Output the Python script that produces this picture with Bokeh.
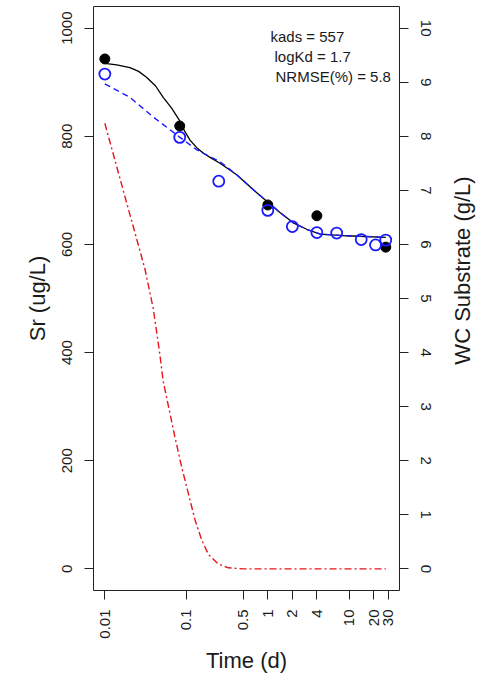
import math
from bokeh.plotting import figure
from bokeh.layouts import row
from bokeh.models import Range1d, LinearAxis, FixedTicker, Label
from bokeh.embed import file_html
from bokeh.resources import INLINE

# ---------------- data ----------------
x_ticks = [0.01, 0.1, 0.5, 1, 2, 4, 10, 20, 30]
x_tick_labels = ["0.01", "0.1", "0.5", "1", "2", "4", "10", "20", "30"]
sr_ticks = [0, 200, 400, 600, 800, 1000]
wc_ticks = [0, 1, 2, 3, 4, 5, 6, 7, 8, 9, 10]

# observed Sr (filled black points)
obs_black_t = [0.01, 0.083, 1, 4, 28]
obs_black_sr = [943, 819, 673, 653, 595]

# observed Sr (open blue circles)
obs_blue_t = [0.01, 0.083, 0.25, 1, 2, 4, 7, 14, 21, 28]
obs_blue_sr = [915, 798, 717, 663, 633, 622, 621, 609, 599, 608]

# model curve (black solid)
model_black_t = [0.01, 0.014, 0.0203, 0.026, 0.0325, 0.042, 0.052, 0.066, 0.082,
                 0.095, 0.111, 0.134, 0.161, 0.2, 0.259, 0.415,
                 0.665, 0.97, 1.41, 2.05, 3.0, 4.4, 9.3, 28]
model_black_sr = [935, 932, 927, 920, 909, 893, 872, 852, 830,
                  810, 793, 779, 769, 760, 750, 729,
                  701, 680, 659, 640, 628, 619, 616, 613]

# model curve (blue dashed)
model_blue_t = [0.01, 0.0203, 0.039, 0.082, 0.134, 0.259, 0.415,
                0.665, 0.97, 1.41, 2.05, 3.0, 4.4, 9.3, 28]
model_blue_sr = [897, 872, 836, 799, 775, 753, 729,
                 701, 680, 659, 640, 628, 619, 616, 613]

# WC substrate (red dash-dot, right axis)
wc_t = [0.01, 0.0133, 0.0176, 0.0234, 0.031, 0.0392, 0.0474, 0.052, 0.0724, 0.0875,
        0.1056, 0.1276, 0.154, 0.186, 0.247, 0.327, 0.5, 1, 28]
wc_g = [8.24, 7.56, 6.89, 6.22, 5.55, 4.82, 3.96, 3.47, 2.44, 1.89,
        1.40, 0.91, 0.54, 0.27, 0.09, 0.02, 0.0, 0.0, 0.0]

stats_lines = ["kads = 557", "logKd = 1.7", "NRMSE(%) = 5.8"]
right_title = "WC Substrate (g/L)"

FONT = "Liberation Sans"
TXT = "#1a1a1a"

p = figure(width=447, height=675, x_axis_type="log",
           x_range=Range1d(0.00726, 41.3), y_range=Range1d(-40, 1040),
           output_backend="svg", toolbar_location=None,
           min_border_left=93, min_border_right=48,
           min_border_top=6, min_border_bottom=82)
p.extra_y_ranges = {"wc": Range1d(-0.4, 10.4)}

p.background_fill_color = "white"
p.border_fill_color = "white"
p.outline_line_color = "#222222"
p.outline_line_width = 1
p.xgrid.visible = False
p.ygrid.visible = False

# x axis
xa = p.xaxis[0]
xa.ticker = FixedTicker(ticks=x_ticks)
xa.major_label_overrides = {t: l for t, l in zip(x_ticks, x_tick_labels)}
xa.axis_label = "Time (d)"

# left axis
ya = p.yaxis[0]
ya.ticker = FixedTicker(ticks=sr_ticks)
ya.axis_label = "Sr (ug/L)"

# right axis
ra = LinearAxis(y_range_name="wc", ticker=FixedTicker(ticks=wc_ticks))
p.add_layout(ra, "right")

for ax in (xa, ya, ra):
    ax.axis_line_color = None
    ax.major_tick_in = 0
    ax.major_tick_out = 9
    ax.major_tick_line_color = "#222222"
    ax.minor_tick_line_color = None
    ax.major_label_text_font = FONT
    ax.major_label_text_font_size = "15px"
    ax.major_label_text_color = TXT
    ax.axis_label_text_font = FONT
    ax.axis_label_text_font_size = "22px"
    ax.axis_label_text_font_style = "normal"
    ax.axis_label_text_color = TXT

xa.major_label_orientation = math.pi / 2
ya.major_label_orientation = "vertical"
ra.major_label_orientation = "vertical"

xa.major_label_standoff = 10
xa.axis_label_standoff = 6
ya.major_label_standoff = 12
ya.axis_label_standoff = 10
ra.major_label_standoff = 12

# lines
p.line(wc_t, wc_g, y_range_name="wc", line_color="#e8141c", line_width=1.4,
       line_dash="7 3 2 3")
p.line(model_black_t, model_black_sr, line_color="black", line_width=1.3)
p.line(model_blue_t, model_blue_sr, line_color="#1a1aff", line_width=1.4,
       line_dash="6 4")

# points
p.scatter(obs_black_t, obs_black_sr, marker="circle", size=10,
          fill_color="black", line_color="black")
p.scatter(obs_blue_t, obs_blue_sr, marker="circle", size=11,
          fill_color=None, line_color="#1a1aff", line_width=1.8)

# stats text
offs = [177, 181, 182]
ys = [554, 534, 514]
for t, xo, yo in zip(stats_lines, offs, ys):
    p.add_layout(Label(x=xo, y=yo, x_units="screen", y_units="screen", text=t,
                       text_font=FONT, text_font_size="15px", text_color=TXT,
                       text_baseline="middle", text_align="left"))

# narrow strip holding the right-axis title (reads bottom-to-top)
p2 = figure(width=31, height=675, output_backend="svg", toolbar_location=None,
            x_range=Range1d(0, 1), y_range=Range1d(0, 1),
            min_border_left=0, min_border_right=0, min_border_top=0, min_border_bottom=0)
p2.axis.visible = False
p2.xgrid.visible = False
p2.ygrid.visible = False
p2.outline_line_color = None
p2.background_fill_color = "white"
p2.border_fill_color = "white"
p2.add_layout(Label(x=15, y=320, x_units="screen", y_units="screen",
                    text=right_title, angle=math.pi / 2,
                    text_font=FONT, text_font_size="22px", text_color=TXT,
                    text_align="center", text_baseline="middle"))

layout = row(p, p2, spacing=0)
open("out.html", "w").write(file_html(layout, INLINE))
